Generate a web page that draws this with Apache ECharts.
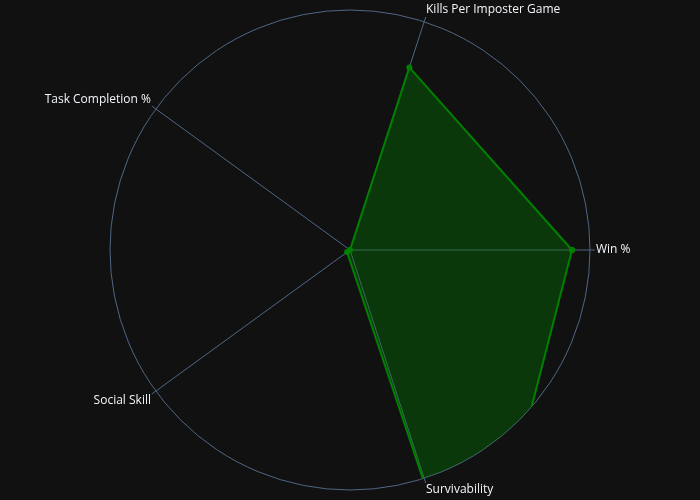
<!DOCTYPE html>
<html>
<head>
<meta charset="utf-8">
<script src="https://cdn.jsdelivr.net/npm/echarts@6/dist/echarts.min.js"></script>
<style>
    html, body { margin: 0; padding: 0; background: #111111; }
    #chart { width: 700px; height: 500px; }
</style>
</head>
<body>
<div id="chart"></div>
<script>
// Chart data
var categories = ['Win %', 'Kills Per Imposter Game', 'Task Completion %', 'Social Skill', 'Survivability'];
var values = [92.5, 80, 0, 1.5, 167];
var radialMax = 100;

// Build [radius, angle] pairs, closing the loop back to the first point
var points = values.map(function(v, i) { return [v, i * 72]; });
points.push([values[0], 360]);

var chart = echarts.init(document.getElementById('chart'));

chart.setOption({
    backgroundColor: '#111111',
    textStyle: {
        fontFamily: '"Open Sans", Arial, sans-serif'
    },
    animation: false,
    polar: {
        center: [350, 250],
        radius: 240
    },
    angleAxis: {
        type: 'value',
        min: 0,
        max: 360,
        interval: 72,
        startAngle: 0,
        clockwise: false,
        axisLine: { lineStyle: { color: '#506784', width: 1 } },
        axisTick: { show: true, length: 5, lineStyle: { color: '#506784' } },
        axisLabel: {
            color: '#f2f5fa',
            fontSize: 12,
            margin: 6,
            formatter: function(v) {
                var i = Math.round(v / 72);
                return i < categories.length ? categories[i] : '';
            }
        },
        splitLine: { show: true, lineStyle: { color: '#506784', width: 1 } }
    },
    radiusAxis: {
        min: 0,
        max: radialMax,
        axisLine: { show: false },
        axisTick: { show: false },
        axisLabel: { show: false },
        splitLine: { show: false }
    },
    series: [{
        type: 'line',
        coordinateSystem: 'polar',
        clip: true,
        data: points,
        symbol: 'circle',
        symbolSize: 6,
        lineStyle: { color: '#008000', width: 2 },
        itemStyle: { color: '#008000' },
        areaStyle: { color: 'rgba(0,128,0,0.5)' }
    }]
});
</script>
</body>
</html>
